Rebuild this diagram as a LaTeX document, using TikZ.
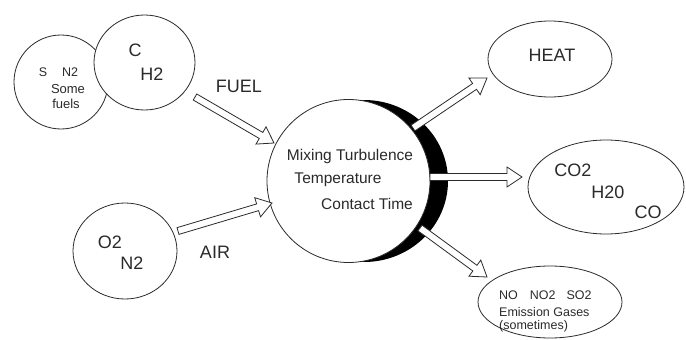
\documentclass[tikz,border=0pt]{standalone}
\usepackage{fontspec}
\setmainfont{Liberation Sans}
\usetikzlibrary{calc,shapes.geometric}
\definecolor{ink}{HTML}{2A2A2A}
\tikzset{
  outline/.style={draw=ink, line width=0.8pt, fill=white, inner sep=0pt, outer sep=0pt},
  bigtxt/.style={font=\fontsize{18}{21}\selectfont, text=ink, inner sep=0pt},
  midtxt/.style={font=\fontsize{15.5}{18}\selectfont, text=ink, inner sep=0pt},
  smalltxt/.style={font=\fontsize{12.5}{15}\selectfont, text=ink, inner sep=0pt},
  arrowbody/.style={draw=ink, line width=0.8pt, fill=white, line join=miter},
}
\newcommand\blockarrow[2]{%
  \coordinate (hb) at ($(#2)!15pt!(#1)$);
  \draw[arrowbody] ($(#1)!3.5pt!90:(#2)$) -- ($(hb)!3.5pt!90:(#2)$) -- ($(hb)!10pt!90:(#2)$) -- (#2)
    -- ($(hb)!10pt!-90:(#2)$) -- ($(hb)!3.5pt!-90:(#2)$) -- ($(#1)!3.5pt!-90:(#2)$) -- cycle;}
\begin{document}
\begin{tikzpicture}[x=1pt,y=-1pt]
\useasboundingbox (0,0) rectangle (686,340);
% fuel circles
\node[outline, ellipse, minimum width=94pt, minimum height=94pt] (sn) at (61,82) {};
\node[outline, ellipse, minimum width=101pt, minimum height=95pt] (ch) at (144.5,62.5) {};
\node[smalltxt] (ts) at (43,72) {S};
\node[smalltxt] (tn) at (70,72) {N2};
\node[smalltxt, font=\fontsize{13}{15}\selectfont] (tsome) at (68,89) {Some};
\node[smalltxt, font=\fontsize{13}{15}\selectfont] (tfuels) at (66,104) {fuels};
\node[bigtxt] (tc) at (135,50) {C};
\node[bigtxt] (th) at (152,74) {H2};
% air circle
\node[outline, ellipse, minimum width=104pt, minimum height=96pt] (air) at (125,251) {};
\node[bigtxt] (to) at (110,242) {O2};
\node[bigtxt] (tn2) at (132,263) {N2};
% labels
\node[bigtxt] (lfuel) at (239,86) {FUEL};
\node[bigtxt] (lair) at (215,252) {AIR};
% central
\node[ellipse, fill=black, inner sep=0pt, minimum width=168pt, minimum height=162pt] (cres) at (364,181) {};
\node[outline, circle, minimum size=163pt] (mix) at (348.5,181) {};
\node[midtxt] (m1) at (350,156) {Mixing Turbulence};
\node[midtxt] (m2) at (338,180) {Temperature};
\node[midtxt] (m3) at (367,204) {Contact Time};
% products
\node[outline, ellipse, minimum width=124pt, minimum height=76pt] (heat) at (550,59) {};
\node[bigtxt] (theat) at (552,55) {HEAT};
\node[outline, ellipse, minimum width=156pt, minimum height=94pt] (prod) at (606,187) {};
\node[bigtxt] (tco2) at (573,170) {CO2};
\node[bigtxt] (th2o) at (608,192) {H20};
\node[bigtxt] (tco) at (648,212) {CO};
\node[outline, ellipse, minimum width=144pt, minimum height=72pt] (emis) at (550,302) {};
\node[smalltxt, anchor=west] (e1) at (499,295) {NO\hspace{12pt}NO2\hspace{11pt}SO2};
\node[smalltxt, anchor=west] (e2) at (499,312) {Emission Gases};
\node[smalltxt, anchor=west] (e3) at (499,326) {(sometimes)};
% arrows
\coordinate (fs) at (195,97);  \coordinate (fe) at (274,143);
\coordinate (as) at (178,231); \coordinate (ae) at (272,203);
\coordinate (hs) at (413,128); \coordinate (he) at (487,78);
\coordinate (ps) at (430,177); \coordinate (pe) at (522,177);
\coordinate (es) at (420,228); \coordinate (ee) at (487,277);
\blockarrow{fs}{fe}
\blockarrow{as}{ae}
\blockarrow{hs}{he}
\blockarrow{ps}{pe}
\blockarrow{es}{ee}
\end{tikzpicture}
\end{document}
